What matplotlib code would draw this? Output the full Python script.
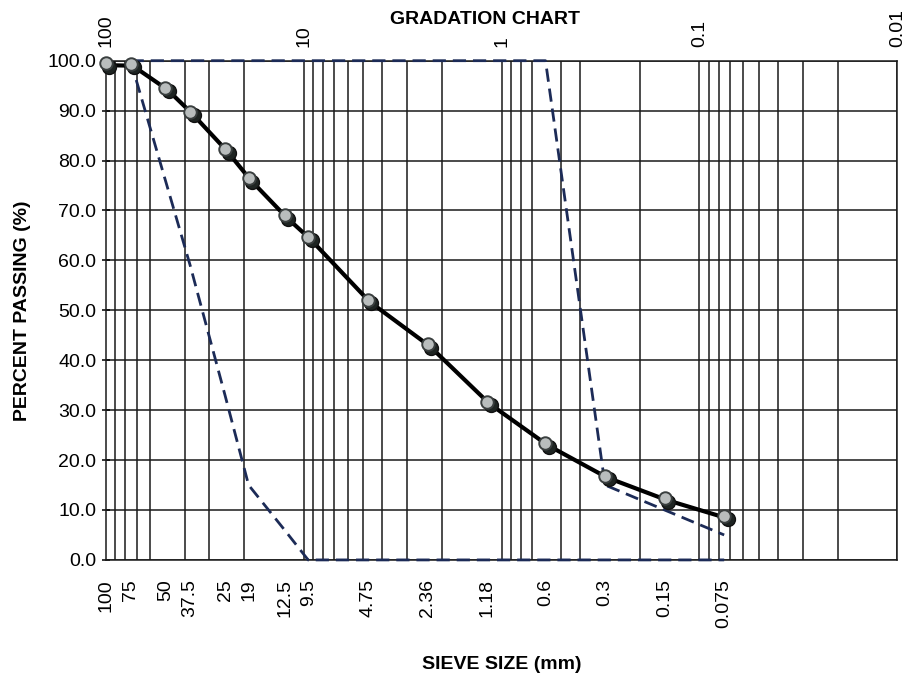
import matplotlib
matplotlib.use("Agg")
import matplotlib.pyplot as plt
import matplotlib.transforms as mtransforms
from matplotlib.ticker import FixedLocator, NullFormatter, NullLocator

plt.rcParams['font.family'] = ['Liberation Sans', 'DejaVu Sans']
plt.rcParams['lines.scale_dashes'] = False

# ---- data ----
sieve_sizes = [100, 75, 50, 37.5, 25, 19, 12.5, 9.5, 4.75, 2.36, 1.18, 0.6, 0.3, 0.15, 0.075]
sieve_labels = ["100", "75", "50", "37.5", "25", "19", "12.5", "9.5", "4.75", "2.36",
                "1.18", "0.6", "0.3", "0.15", "0.075"]
percent_passing = [99.5, 99.4, 94.6, 89.8, 82.3, 76.5, 69.0, 64.7, 52.1, 43.2, 31.7, 23.4, 16.9, 12.4, 8.8]

spec_sizes = [75, 50, 37.5, 25, 19, 12.5, 9.5, 4.75, 2.36, 1.18, 0.6, 0.3, 0.15, 0.075]
spec_upper = [100, 100, 100, 100, 100, 100, 100, 100, 100, 100, 100, 15, 10, 5]
spec_lower = [100, 76, 59, 33, 15, 6, 0, 0, 0, 0, 0, 0, 0, 0]

top_ticks = [100, 10, 1, 0.1, 0.01]
top_labels = ["100", "10", "1", "0.1", "0.01"]
y_ticks = [0, 10, 20, 30, 40, 50, 60, 70, 80, 90, 100]

# ---- figure ----
fig = plt.figure(figsize=(9.05, 6.82), dpi=100)
ax = fig.add_axes([0.117, 0.179, 0.8745, 0.732])

ax.set_xscale('log')
ax.set_xlim(100, 0.01)
ax.set_ylim(0, 100)

grid_color = '#1a1a1a'
# bottom ticks: sieve sizes (labels only); vertical grid on log decades + subdivisions
ax.xaxis.set_major_locator(FixedLocator(sieve_sizes))
ax.xaxis.set_minor_locator(FixedLocator([v * m for v in [0.01, 0.1, 1, 10] for m in range(1, 10)] + [100]))
ax.xaxis.set_minor_formatter(NullFormatter())
ax.set_xticks(sieve_sizes)
ax.set_xticklabels(sieve_labels, rotation=90, fontsize=14)
ax.grid(False, which='major', axis='x')
ax.grid(True, which='minor', axis='x', color=grid_color, linewidth=1.1)
ax.set_yticks(y_ticks)
ax.set_yticklabels([f"{v:.1f}" for v in y_ticks])
ax.grid(True, which='major', axis='y', color=grid_color, linewidth=1.1)
ax.set_axisbelow(True)
ax.tick_params(axis='x', which='both', length=0, pad=14)
ax.tick_params(axis='y', which='major', length=6, width=1.1, direction='inout', labelsize=14, pad=4)

for s in ax.spines.values():
    s.set_color(grid_color)
    s.set_linewidth(1.1)

# spec limits (dashed)
dash_color = '#1c2b57'
ax.plot(spec_sizes, spec_upper, color=dash_color, linewidth=2.0, dashes=(9.5, 5),
        zorder=4, clip_on=False)
ax.plot(spec_sizes, spec_lower, color=dash_color, linewidth=2.0, dashes=(9.5, 5),
        zorder=4, clip_on=False)

# main gradation curve
shadow = mtransforms.offset_copy(ax.transData, fig=fig, x=3.5, y=-3.5, units='dots')
ax.plot(sieve_sizes, percent_passing, color='black', linewidth=3.0, zorder=5,
        clip_on=False, transform=mtransforms.offset_copy(ax.transData, fig=fig, x=2, y=-2, units='dots'))
ax.plot(sieve_sizes, percent_passing, linestyle='none', marker='o', markersize=10,
        markerfacecolor='#1e2422', markeredgecolor='#111', zorder=6, clip_on=False,
        transform=shadow)
ax.plot(sieve_sizes, percent_passing, linestyle='none', marker='o', markersize=9,
        markerfacecolor='#b9bdbd', markeredgecolor='#3a3f3f', markeredgewidth=1.4,
        zorder=7, clip_on=False)

# top axis
axt = ax.twiny()
axt.set_xscale('log')
axt.set_xlim(100, 0.01)
axt.xaxis.set_major_locator(FixedLocator(top_ticks))
axt.xaxis.set_minor_locator(NullLocator())
axt.set_xticklabels(top_labels, rotation=90, fontsize=14)
axt.tick_params(axis='x', length=0, pad=10)
for s in axt.spines.values():
    s.set_visible(False)

fig.text(0.536, 0.972, "GRADATION CHART", ha='center', va='center',
         fontsize=14, fontweight='bold')
ax.set_xlabel("SIEVE SIZE (mm)", fontsize=14, fontweight='bold', labelpad=20)
ax.set_ylabel("PERCENT PASSING (%)", fontsize=14, fontweight='bold', labelpad=12)

fig.savefig("out.png", dpi=100)
